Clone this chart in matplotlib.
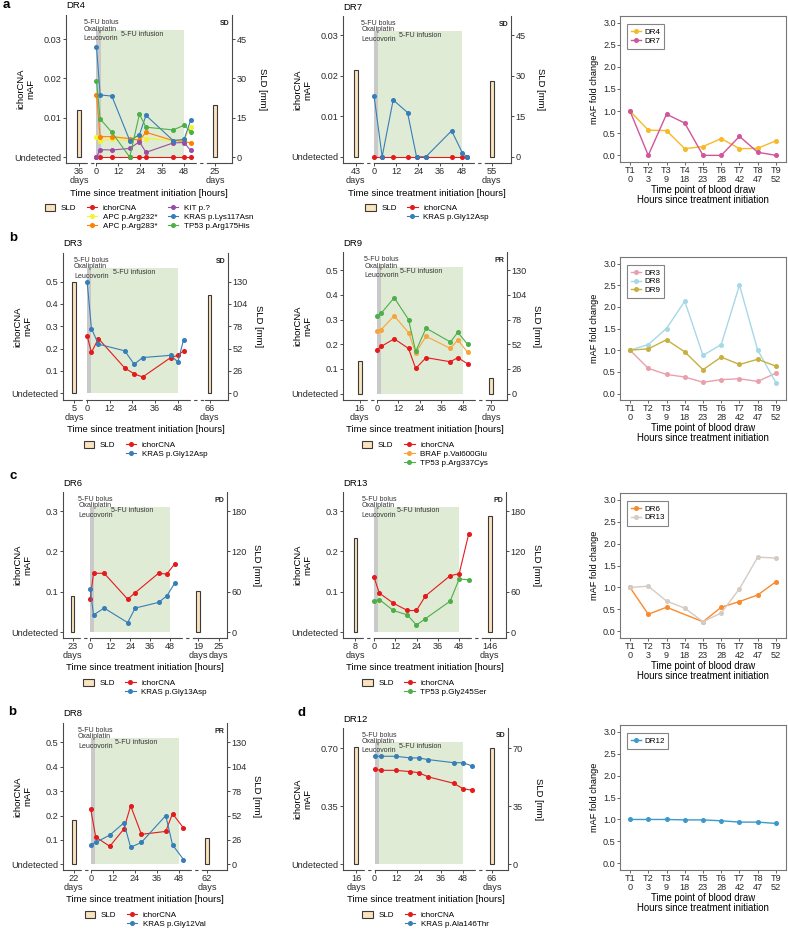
import numpy as np
import matplotlib
matplotlib.use("Agg")
import matplotlib.pyplot as plt
import matplotlib.transforms as mtransforms
from matplotlib.lines import Line2D
from matplotlib.patches import Patch, Rectangle

plt.rcParams["font.family"] = ["Liberation Sans", "DejaVu Sans"]

W, H = 788, 932

RED = "#E41A1C"
BLUE = "#377EB8"
GREEN = "#4DAF4A"
PURPLE = "#984EA3"
ORANGE = "#FF7F00"
YELLOW = "#F3F32E"
LIGHT_ORANGE = "#F9A43A"
SLD_FILL = "#FAE3BD"
SLD_EDGE = "#3a3a3a"
AXC = "#4a4a4a"

# ---------------- data: mAF per blood draw ----------------
# DR4
dr4_hours = [0, 2, 8.4, 18.2, 23.5, 27.1, 42, 48, 51.5]
dr4_ichor = [0, 0, 0, 0, 0, 0, 0, 0, 0]
dr4_apc232 = [0.0052, 0.0041, 0.0046, 0.0042, 0.0054, 0.0047, 0.0042, 0.0044, 0.0077]
dr4_apc283 = [0.0158, 0.0052, 0.0052, 0.0047, 0.0043, 0.0063, 0.0042, 0.0040, 0.0036]
dr4_kit = [0.0, 0.0019, 0.0018, 0.0022, 0.0039, 0.0012, 0.0036, 0.0037, 0.0017]
dr4_kras = [0.0280, 0.0158, 0.0155, 0.0042, 0.0057, 0.0106, 0.0042, 0.0045, 0.0093]
dr4_tp53 = [0.0193, 0.0097, 0.0063, 0.0, 0.0109, 0.0076, 0.0069, 0.0081, 0.0065]
dr4_sld_days = [36, 25]
dr4_sld_mm = [18, 20]

# DR7
dr7_hours = [0, 4.4, 10.4, 18.2, 23.1, 28.2, 42.2, 48, 50.4]
dr7_ichor = [0, 0, 0, 0, 0, 0, 0, 0, 0]
dr7_kras = [0.0150, 0.0, 0.0140, 0.0109, 0.0, 0.0, 0.0064, 0.0010, 0.0]
dr7_sld_days = [43, 55]
dr7_sld_mm = [32, 28]

# DR3
dr3_hours = [0, 2.3, 6, 20, 25, 29.5, 44.4, 48.2, 51.2]
dr3_ichor = [0.258, 0.183, 0.245, 0.113, 0.087, 0.073, 0.160, 0.170, 0.190]
dr3_kras = [0.50, 0.29, 0.22, 0.19, 0.13, 0.16, 0.17, 0.14, 0.24]
dr3_sld_days = [5, 66]
dr3_sld_mm = [130, 114]

# DR9
dr9_hours = [0, 2.4, 9.7, 17.7, 21.7, 27.5, 41.1, 45.2, 50.8]
dr9_ichor = [0.177, 0.191, 0.222, 0.183, 0.102, 0.146, 0.129, 0.146, 0.120]
dr9_braf = [0.255, 0.259, 0.315, 0.247, 0.166, 0.232, 0.183, 0.217, 0.167]
dr9_tp53 = [0.314, 0.325, 0.388, 0.300, 0.171, 0.265, 0.209, 0.248, 0.199]
dr9_sld_days = [16, 70]
dr9_sld_mm = [34, 17]

# DR6
dr6_hours = [0, 2, 8.4, 22.5, 27, 41, 46, 50.8]
dr6_ichor = [0.082, 0.146, 0.146, 0.082, 0.098, 0.146, 0.144, 0.170]
dr6_kras = [0.108, 0.043, 0.060, 0.024, 0.060, 0.074, 0.090, 0.122]
dr6_sld_days = [23, 19, 25]
dr6_sld_mm = [54, 62, None]

# DR13
dr13_hours = [0, 3, 10.9, 18.8, 23.9, 29, 42.9, 48, 53.3]
dr13_ichor = [0.136, 0.097, 0.072, 0.054, 0.054, 0.090, 0.140, 0.145, 0.242]
dr13_tp53 = [0.078, 0.081, 0.054, 0.043, 0.018, 0.034, 0.077, 0.132, 0.130]
dr13_sld_days = [8, 146]
dr13_sld_mm = [140, 173]

# DR8
dr8_hours = [0, 2.7, 10.4, 18.1, 21.8, 27.7, 41, 44.7, 50.7]
dr8_ichor = [0.225, 0.112, 0.074, 0.145, 0.240, 0.123, 0.135, 0.208, 0.149]
dr8_kras = [0.080, 0.090, 0.120, 0.170, 0.070, 0.090, 0.200, 0.080, 0.020]
dr8_sld_days = [22, 62]
dr8_sld_mm = [47, 28]

# DR12
dr12_hours = [0, 3.3, 11.4, 19.4, 23.9, 29, 43.1, 48, 53.1]
dr12_ichor = [0.573, 0.567, 0.567, 0.559, 0.553, 0.528, 0.488, 0.456, 0.446]
dr12_kras = [0.652, 0.652, 0.652, 0.642, 0.642, 0.632, 0.613, 0.613, 0.593]
dr12_sld_days = [16, 66]
dr12_sld_mm = [71, 70]

# fold change of mutation mAF vs first draw
fold_points = ["T1", "T2", "T3", "T4", "T5", "T6", "T7", "T8", "T9"]
fold_hours = [0, 3, 9, 18, 23, 28, 42, 47, 52]
fold_dr4 = [1.0, 0.57, 0.56, 0.15, 0.20, 0.38, 0.15, 0.16, 0.33]
fold_dr7 = [1.0, 0.0, 0.93, 0.73, 0.0, 0.0, 0.43, 0.07, 0.0]
fold_dr3 = [1.0, 0.58, 0.44, 0.38, 0.26, 0.32, 0.34, 0.28, 0.47]
fold_dr8 = [1.0, 1.13, 1.50, 2.13, 0.88, 1.13, 2.50, 1.00, 0.25]
fold_dr9 = [1.0, 1.03, 1.24, 0.96, 0.55, 0.84, 0.67, 0.79, 0.63]
fold_dr6 = [1.0, 0.39, 0.55, None, 0.22, 0.55, 0.68, 0.83, 1.13]
fold_dr13 = [1.0, 1.03, 0.69, 0.53, 0.22, 0.42, 0.97, 1.69, 1.67]
fold_dr12 = [1.0, 1.0, 1.0, 0.99, 0.99, 0.97, 0.94, 0.94, 0.91]

fig = plt.figure(figsize=(W / 100, H / 100), dpi=100)


def box(l, t, r, b):
    return [l / W, 1 - b / H, (r - l) / W, (b - t) / H]


def pt(x, y):
    return (x / W, 1 - y / H)


def timeline(rect, name, resp, hours, series, days, mm, bar_x, xlim, ylim, k,
             yticks, ylabels, rticks):
    l, t, r, b = rect
    ax = fig.add_axes(box(l, t, r, b))
    ax.set_xlim(xlim)
    ax.set_ylim(ylim)

    gtop = ylim[0] + 0.9 * (ylim[1] - ylim[0])
    ax.add_patch(Rectangle((0, 0), 48, gtop, facecolor="#DFEBD5", lw=0, zorder=0))
    ax.add_patch(Rectangle((0, 0), 2.2, gtop, facecolor="#C9C9C9", lw=0, zorder=0.5))

    for label, vals, color in series:
        ax.plot(hours, vals, "-o", color=color, lw=0.8, ms=2.6, zorder=3, clip_on=False)

    ta = mtransforms.blended_transform_factory(ax.transData, ax.transAxes)
    tk = dict(transform=ta, fontsize=5, color="#333333", va="center")
    ax.text(-7, 0.95, "5-FU bolus", ha="left", **tk)
    ax.text(-7, 0.905, "Oxaliplatin", ha="left", **tk)
    ax.text(-7, 0.84, "Leucovorin", ha="left", **tk)
    ax.text(25, 0.87, "5-FU infusion", ha="center", **tk)
    ax.text(0.985, 0.945, resp, transform=ax.transAxes, ha="right", va="center",
            fontsize=5, weight="bold", color="#222222")

    # SLD bars on secondary scale
    ax2 = ax.twinx()
    ax2.set_ylim(ylim[0] * k, ylim[1] * k)
    bx = [x for x, v in zip(bar_x, mm) if v is not None]
    bh = [v for v in mm if v is not None]
    ax2.bar(bx, bh, width=2.0, color=SLD_FILL, edgecolor=SLD_EDGE, lw=0.8)
    ax2.set_yticks(rticks)

    xt = [bar_x[0], 0, 12, 24, 36, 48] + bar_x[1:]
    xl = [f"{days[0]}\ndays", "0", "12", "24", "36", "48"] + [f"{d}\ndays" for d in days[1:]]
    ax.set_xticks(xt, xl)
    ax.set_yticks(yticks, ylabels)
    for lab in ax.get_xticklabels():
        lab.set_linespacing(0.95)

    for a in (ax, ax2):
        a.tick_params(length=2, width=0.7, color=AXC, labelsize=6.6,
                      labelcolor="#2b2b2b", pad=1.2)
        for s in a.spines.values():
            s.set_visible(False)
            s.set_color(AXC)
            s.set_linewidth(0.8)
    ax.spines["left"].set_visible(True)
    ax2.spines["right"].set_visible(True)

    # broken bottom axis line
    tr = mtransforms.blended_transform_factory(ax.transData, ax.transAxes)
    kw = dict(transform=tr, color=AXC, lw=0.8, clip_on=False)
    pre, post = bar_x[0], bar_x[1]
    ax.plot([xlim[0], pre + 2.5], [0, 0], **kw)
    ax.plot([pre + 2.5, 0], [0, 0], ls=(0, (3, 3)), **kw)
    ax.plot([0, 53], [0, 0], **kw)
    ax.plot([53, post - 2.5], [0, 0], ls=(0, (3, 3)), **kw)
    ax.plot([post - 2.5, xlim[1]], [0, 0], **kw)

    cx, cy = (l + r) / 2, (t + b) / 2
    fig.text(*pt(l, t - 9), name, ha="left", va="center", fontsize=6.8)
    fig.text(*pt(l - 40, cy), "ichorCNA\nmAF", rotation=90, ha="center", va="center",
             fontsize=6.8, linespacing=1.05)
    fig.text(*pt(r + 30, cy), "SLD [mm]", rotation=270, ha="center", va="center", fontsize=6.8)
    fig.text(*pt(cx, b + 30), "Time since treatment initiation [hours]",
             ha="center", va="center", fontsize=6.8)

    handles = [Patch(facecolor=SLD_FILL, edgecolor=SLD_EDGE, lw=0.8, label="SLD")]
    n = len(series)
    nrows = min(n, 3)
    handles += [Line2D([], [], lw=0, label="") for _ in range(nrows - 1)]
    for label, vals, color in series:
        handles.append(Line2D([], [], color=color, marker="o", ms=2.6, lw=0.8, label=label))
    ncol = 1 + -(-n // nrows)
    fig.legend(handles=handles, loc="upper center", bbox_to_anchor=pt(cx, b + 41),
               ncol=ncol, frameon=False, fontsize=5.8, handlelength=1.3, handleheight=0.9,
               handletextpad=0.7, columnspacing=1.3, labelspacing=0.12, borderpad=0,
               borderaxespad=0)


def fold_panel(rect, entries):
    l, t, r, b = rect
    ax = fig.add_axes(box(l, t, r, b))
    x = np.arange(1, 10)
    for name, vals, color in entries:
        xs = [xi for xi, v in zip(x, vals) if v is not None]
        ys = [v for v in vals if v is not None]
        ax.plot(xs, ys, "-o", color=color, lw=1.0, ms=2.6, label=name)
    ax.set_xlim(0.45, 9.55)
    ax.set_ylim(-0.15, 3.15)
    ax.set_xticks(x, [f"{p}\n{h}" for p, h in zip(fold_points, fold_hours)])
    ax.set_yticks([0, 0.5, 1.0, 1.5, 2.0, 2.5, 3.0])
    ax.yaxis.set_major_formatter("{x:.1f}")
    for s in ax.spines.values():
        s.set_color("#777777")
        s.set_linewidth(0.8)
    ax.tick_params(length=2, width=0.7, color="#666666", labelsize=6.6,
                   labelcolor="#2b2b2b", pad=1.0)
    for lab in ax.get_xticklabels():
        lab.set_linespacing(0.95)
    ax.set_ylabel("mAF fold change", fontsize=6.6, labelpad=3)
    fig.text(*pt((l + r) / 2, b + 33), "Time point of blood draw\nHours since treatment initiation",
             ha="center", va="center", fontsize=6.9, linespacing=1.1)
    leg = ax.legend(loc="upper left", bbox_to_anchor=(0.042, 0.945), frameon=True,
                    fancybox=False, edgecolor="#666666", fontsize=5.8, handlelength=1.2,
                    handletextpad=0.4, borderpad=0.5, labelspacing=0.15, borderaxespad=0)
    leg.get_frame().set_linewidth(0.8)


panels = [
    dict(rect=(66, 15, 232, 163), name="DR4", resp="SD", hours=dr4_hours,
         series=[("ichorCNA", dr4_ichor, RED), ("APC p.Arg232*", dr4_apc232, YELLOW),
                 ("APC p.Arg283*", dr4_apc283, ORANGE), ("KIT p.?", dr4_kit, PURPLE),
                 ("KRAS p.Lys117Asn", dr4_kras, BLUE), ("TP53 p.Arg175His", dr4_tp53, GREEN)],
         days=dr4_sld_days, mm=dr4_sld_mm, bar_x=[-9.6, 64.9], xlim=(-16.7, 74.2),
         ylim=(-0.0015, 0.0361), k=1500, yticks=[0, 0.01, 0.02, 0.03],
         ylabels=["Undetected", "0.01", "0.02", "0.03"], rticks=[0, 15, 30, 45]),
    dict(rect=(343, 16, 511, 163), name="DR7", resp="SD", hours=dr7_hours,
         series=[("ichorCNA", dr7_ichor, RED), ("KRAS p.Gly12Asp", dr7_kras, BLUE)],
         days=dr7_sld_days, mm=dr7_sld_mm, bar_x=[-10, 64], xlim=(-16.9, 74.5),
         ylim=(-0.00155, 0.0347), k=1500, yticks=[0, 0.01, 0.02, 0.03],
         ylabels=["Undetected", "0.01", "0.02", "0.03"], rticks=[0, 15, 30, 45]),
    dict(rect=(63, 253, 228, 400), name="DR3", resp="SD", hours=dr3_hours,
         series=[("ichorCNA", dr3_ichor, RED), ("KRAS p.Gly12Asp", dr3_kras, BLUE)],
         days=dr3_sld_days, mm=dr3_sld_mm, bar_x=[-6.8, 65], xlim=(-12.8, 74.8),
         ylim=(-0.030, 0.628), k=260, yticks=[0, 0.1, 0.2, 0.3, 0.4, 0.5],
         ylabels=["Undetected", "0.1", "0.2", "0.3", "0.4", "0.5"],
         rticks=[0, 26, 52, 78, 104, 130]),
    dict(rect=(343, 252, 507, 400), name="DR9", resp="PR", hours=dr9_hours,
         series=[("ichorCNA", dr9_ichor, RED), ("BRAF p.Val600Glu", dr9_braf, LIGHT_ORANGE),
                 ("TP53 p.Arg337Cys", dr9_tp53, GREEN)],
         days=dr9_sld_days, mm=dr9_sld_mm, bar_x=[-9.5, 63.7], xlim=(-18.9, 72.7),
         ylim=(-0.0255, 0.573), k=260, yticks=[0, 0.1, 0.2, 0.3, 0.4, 0.5],
         ylabels=["Undetected", "0.1", "0.2", "0.3", "0.4", "0.5"],
         rticks=[0, 26, 52, 78, 104, 130]),
    dict(rect=(63, 492, 227, 638), name="DR6", resp="PD", hours=dr6_hours,
         series=[("ichorCNA", dr6_ichor, RED), ("KRAS p.Gly13Asp", dr6_kras, BLUE)],
         days=dr6_sld_days, mm=dr6_sld_mm, bar_x=[-10.6, 64.7, 77], xlim=(-16.3, 82.1),
         ylim=(-0.014, 0.347), k=600, yticks=[0, 0.1, 0.2, 0.3],
         ylabels=["Undetected", "0.1", "0.2", "0.3"], rticks=[0, 60, 120, 180]),
    dict(rect=(343, 492, 506, 638), name="DR13", resp="PD", hours=dr13_hours,
         series=[("ichorCNA", dr13_ichor, RED), ("TP53 p.Gly245Ser", dr13_tp53, GREEN)],
         days=dr13_sld_days, mm=dr13_sld_mm, bar_x=[-10.5, 65.3], xlim=(-17.5, 74.4),
         ylim=(-0.014, 0.347), k=600, yticks=[0, 0.1, 0.2, 0.3],
         ylabels=["Undetected", "0.1", "0.2", "0.3"], rticks=[0, 60, 120, 180]),
    dict(rect=(63, 723, 227, 870), name="DR8", resp="PR", hours=dr8_hours,
         series=[("ichorCNA", dr8_ichor, RED), ("KRAS p.Gly12Val", dr8_kras, BLUE)],
         days=dr8_sld_days, mm=dr8_sld_mm, bar_x=[-9.3, 63.6], xlim=(-15.2, 74.5),
         ylim=(-0.023, 0.579), k=260, yticks=[0, 0.1, 0.2, 0.3, 0.4, 0.5],
         ylabels=["Undetected", "0.1", "0.2", "0.3", "0.4", "0.5"],
         rticks=[0, 26, 52, 78, 104, 130]),
    dict(rect=(343, 728, 508, 870), name="DR12", resp="SD", hours=dr12_hours,
         series=[("ichorCNA", dr12_ichor, RED), ("KRAS p.Ala146Thr", dr12_kras, BLUE)],
         days=dr12_sld_days, mm=dr12_sld_mm, bar_x=[-10, 63.8], xlim=(-17.2, 72.5),
         ylim=(-0.036, 0.823), k=100, yticks=[0, 0.35, 0.70],
         ylabels=["Undetected", "0.35", "0.70"], rticks=[0, 35, 70]),
]

for p in panels:
    timeline(**p)

fold_panel((620, 16, 786, 162), [("DR4", fold_dr4, "#F7B928"), ("DR7", fold_dr7, "#D2559A")])
fold_panel((620, 257, 786, 400), [("DR3", fold_dr3, "#E8A1AB"), ("DR8", fold_dr8, "#A7D8E6"),
                                  ("DR9", fold_dr9, "#C8B040")])
fold_panel((620, 493, 786, 638), [("DR6", fold_dr6, "#F98A2E"), ("DR13", fold_dr13, "#D5CBC3")])
fold_panel((620, 725, 786, 870), [("DR12", fold_dr12, "#3C9ACB")])

for letter, x, y in [("a", 3, 5), ("b", 9, 238), ("c", 9, 476), ("b", 8, 712), ("d", 298, 713)]:
    fig.text(*pt(x, y), letter, ha="left", va="center", fontsize=9.5, weight="bold")

fig.savefig("out.png", dpi=100)
